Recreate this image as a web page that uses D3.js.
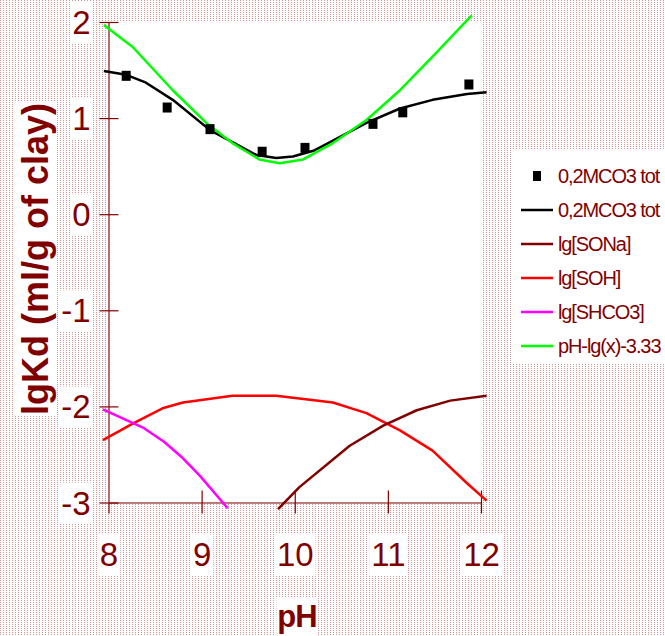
<!DOCTYPE html>
<html>
<head>
<meta charset="utf-8">
<script src="https://cdn.jsdelivr.net/npm/d3@7"></script>
<style>
  html, body { margin: 0; padding: 0; background: #fff; }
  svg { display: block; }
  text { font-family: "Liberation Sans", Arial, sans-serif; }
</style>
</head>
<body>
<svg id="chart" width="665" height="636"></svg>
<script>
// ---- data ----
const xTicks = [8, 9, 10, 11, 12];
const yTicks = [-3, -2, -1, 0, 1, 2];

const scatterPH = [8.19, 8.63, 9.09, 9.65, 10.11, 10.84, 11.16, 11.87];
const scatterKd = [1.44, 1.11, 0.885, 0.65, 0.69, 0.94, 1.06, 1.35];

const fitPH = [7.95, 8.19, 8.39, 8.69, 9.09, 9.33, 9.59, 9.8, 9.98, 10.2, 10.38, 10.77, 11.13, 11.48, 11.85, 12.06];
const fitKd = [1.49, 1.45, 1.375, 1.19, 0.875, 0.75, 0.615, 0.585, 0.6, 0.66, 0.75, 0.95, 1.1, 1.19, 1.25, 1.27];

const sonaPH = [9.82, 10.05, 10.59, 10.95, 11.31, 11.67, 12.06];
const sonaY  = [-3.07, -2.84, -2.41, -2.2, -2.04, -1.94, -1.89];

const sohPH = [7.94, 8.26, 8.58, 8.8, 9.33, 9.8, 10.41, 10.77, 11.13, 11.48, 11.85, 12.06];
const sohY  = [-2.35, -2.18, -2.02, -1.96, -1.89, -1.89, -1.96, -2.07, -2.25, -2.46, -2.8, -2.98];

const shco3PH = [7.94, 8.37, 8.6, 8.8, 8.98, 9.28];
const shco3Y  = [-2.03, -2.22, -2.37, -2.54, -2.72, -3.06];

const greenPH = [7.95, 8.26, 8.69, 9.05, 9.33, 9.62, 9.84, 10.09, 10.41, 10.77, 11.13, 11.48, 11.9];
const greenY  = [1.97, 1.74, 1.29, 0.95, 0.74, 0.57, 0.53, 0.57, 0.74, 0.98, 1.29, 1.64, 2.07];

const legendLabels = ["0,2MCO3 tot", "0,2MCO3 tot", "lg[SONa]", "lg[SOH]", "lg[SHCO3]", "pH-lg(x)-3.33"];
const legendColors = ["#000000", "#000000", "#800000", "#ff0000", "#ff00ff", "#00ff00"];

// ---- drawing ----
const svg = d3.select("#chart");
const W = 665, H = 636;
const DARK = "#800000";

const defs = svg.append("defs");
const pat = defs.append("pattern").attr("id", "dots")
  .attr("patternUnits", "userSpaceOnUse").attr("width", 3).attr("height", 2);
pat.append("rect").attr("width", 3).attr("height", 2).attr("fill", "#fff");
pat.append("rect").attr("x", 0).attr("y", 0).attr("width", 1).attr("height", 1).attr("fill", "#cf9797");

svg.append("rect").attr("width", W).attr("height", H).attr("fill", "url(#dots)");

const x = d3.scaleLinear().domain([8, 12]).range([108.5, 481]);
const y = d3.scaleLinear().domain([-3, 2]).range([502.5, 22]);

// plot area
svg.append("rect")
  .attr("x", x(8)).attr("y", y(2))
  .attr("width", x(12) - x(8)).attr("height", y(-3) - y(2))
  .attr("fill", "#fff");

function whiteBox(sel, pad) {
  sel.each(function () {
    const b = this.getBBox();
    d3.select(this.parentNode).insert("rect", () => this)
      .attr("x", b.x - pad).attr("y", b.y - pad)
      .attr("width", b.width + 2 * pad).attr("height", b.height + 2 * pad)
      .attr("fill", "#fff");
  });
}

// x axis
const xAxis = svg.append("g").attr("transform", `translate(0,${y(-3)})`)
  .call(d3.axisBottom(x).tickValues(xTicks).tickFormat(d3.format("d")).tickSize(0).tickPadding(0));
xAxis.select(".domain").attr("stroke", DARK).attr("stroke-width", 1.2);
xAxis.selectAll(".tick line").attr("y1", -12).attr("y2", 11).attr("stroke", DARK).attr("stroke-width", 1.2);
xAxis.selectAll(".tick text")
  .attr("y", 52).attr("dy", "0.35em")
  .attr("fill", DARK).attr("font-size", 33)
  .attr("font-family", "Liberation Sans, Arial, sans-serif");
whiteBox(xAxis.selectAll(".tick text"), 2);

// y axis
const yAxis = svg.append("g").attr("transform", `translate(${x(8)},0)`)
  .call(d3.axisLeft(y).tickValues(yTicks).tickFormat(d3.format("d")).tickSize(0).tickPadding(0));
yAxis.select(".domain").attr("stroke", "#b56d6d").attr("stroke-width", 2);
yAxis.selectAll(".tick line").attr("x1", -9).attr("x2", 10).attr("stroke", DARK).attr("stroke-width", 1.2);
yAxis.selectAll(".tick text")
  .attr("x", -18).attr("dy", "0.35em")
  .attr("fill", DARK).attr("font-size", 33)
  .attr("font-family", "Liberation Sans, Arial, sans-serif")
  .text(d => d < 0 ? "-" + Math.abs(d) : d);
whiteBox(yAxis.selectAll(".tick text"), 2);

// axis titles
const xt = svg.append("g");
xt.append("text").attr("x", 297).attr("y", 627).attr("text-anchor", "middle")
  .attr("font-size", 31).attr("font-weight", "bold").attr("fill", DARK).attr("letter-spacing", -1)
  .text("pH");
whiteBox(xt.selectAll("text"), 1);

const yt = svg.append("g").attr("transform", "translate(48,259) rotate(-90)");
yt.append("text").attr("x", 0).attr("y", 0).attr("text-anchor", "middle")
  .attr("font-size", 36).attr("font-weight", "bold").attr("fill", DARK)
  .text("lgKd (ml/g of clay)");
whiteBox(yt.selectAll("text"), 1);

// lines
const line = d3.line().x(d => x(d[0])).y(d => y(d[1]));
function drawLine(px, py, color, w) {
  svg.append("path").datum(px.map((v, i) => [v, py[i]]))
    .attr("d", line).attr("fill", "none").attr("stroke", color)
    .attr("stroke-width", w).attr("stroke-linejoin", "round");
}
drawLine(sohPH, sohY, "#ff0000", 2.5);
drawLine(sonaPH, sonaY, "#800000", 2.5);
drawLine(shco3PH, shco3Y, "#ff00ff", 2.5);
drawLine(fitPH, fitKd, "#000000", 2.5);
drawLine(greenPH, greenY, "#00ff00", 2.5);

// scatter
svg.append("g").selectAll("rect")
  .data(scatterPH.map((v, i) => [v, scatterKd[i]]))
  .join("rect")
  .attr("x", d => x(d[0]) - 4.5).attr("y", d => y(d[1]) - 5)
  .attr("width", 9).attr("height", 10).attr("fill", "#000");

// legend
const lg = svg.append("g");
lg.append("rect").attr("x", 512).attr("y", 150).attr("width", 160).attr("height", 213).attr("fill", "#fff");
const ly = d => 176 + d * 34;
legendLabels.forEach((lab, i) => {
  if (i === 0) {
    lg.append("rect").attr("x", 533).attr("y", ly(i) - 5).attr("width", 8).attr("height", 10).attr("fill", "#000");
  } else {
    lg.append("line").attr("x1", 521).attr("x2", 553).attr("y1", ly(i)).attr("y2", ly(i))
      .attr("stroke", legendColors[i]).attr("stroke-width", 2.5);
  }
  lg.append("text").attr("x", 558).attr("y", ly(i)).attr("dy", "0.35em")
    .attr("font-size", 20).attr("letter-spacing", -1.1).attr("fill", DARK)
    .text(lab);
});
</script>
</body>
</html>
